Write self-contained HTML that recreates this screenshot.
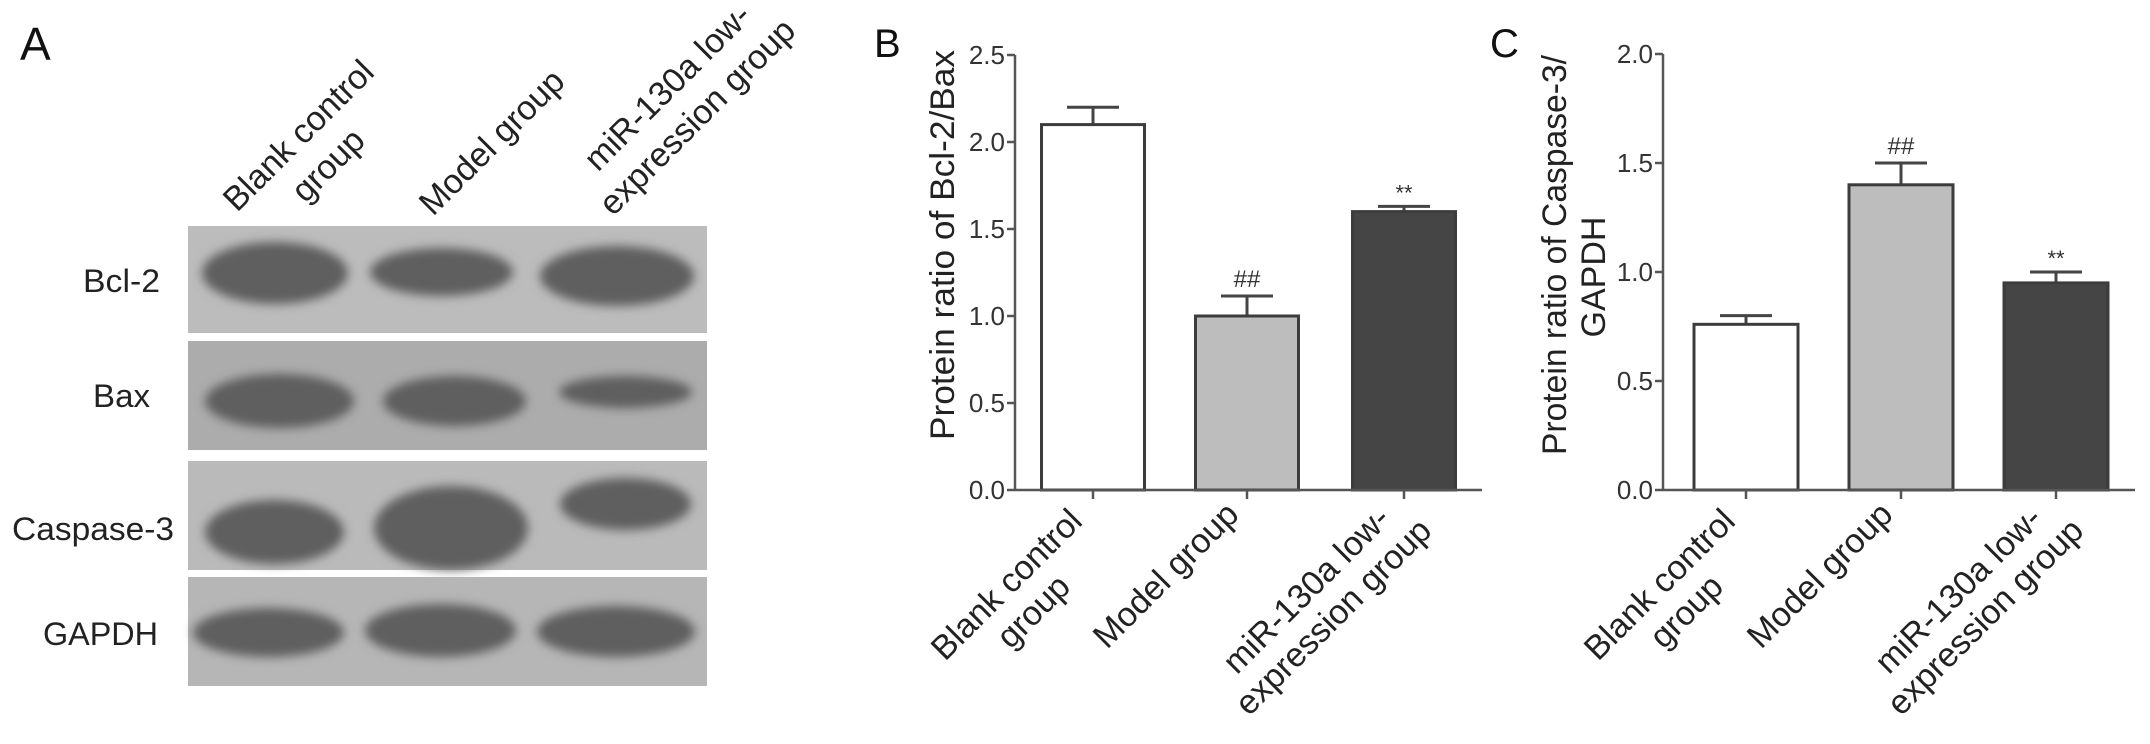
<!DOCTYPE html>
<html><head><meta charset="utf-8"><style>
html,body{margin:0;padding:0;background:#fff;}
svg{display:block;font-family:"Liberation Sans",Arial,sans-serif;}
</style></head><body>
<svg id="fig" width="2150" height="744" viewBox="0 0 2150 744" xmlns="http://www.w3.org/2000/svg">
<defs><filter id="blur" x="-20%" y="-50%" width="140%" height="200%"><feGaussianBlur stdDeviation="5"/></filter></defs>
<g id="panelA"></g>
<g id="panelB"></g>
<g id="panelC"></g>
</svg>
<script>
const categories = ["Blank control group","Model group","miR-130a low-expression group"];
const catLines = [["Blank control","group"],["Model group"],["miR-130a low-","expression group"]];
const bValues = [2.10, 1.00, 1.60];
const bErrors = [0.10, 0.115, 0.03];
const bMarks = ["", "##", "**"];
const bTicks = ["0.0","0.5","1.0","1.5","2.0","2.5"];
const cValues = [0.76, 1.40, 0.95];
const cErrors = [0.04, 0.10, 0.05];
const cMarks = ["", "##", "**"];
const cTicks = ["0.0","0.5","1.0","1.5","2.0"];
const blotRows = ["Bcl-2","Bax","Caspase-3","GAPDH"];

const NS="http://www.w3.org/2000/svg";
function mk(tag, attrs, parent){const e=document.createElementNS(NS,tag);for(const k in attrs)e.setAttribute(k,attrs[k]);if(parent)parent.appendChild(e);return e;}
const fills=["#ffffff","#bdbdbd","#454545"];

function rotLabel(parent, lines, sx, sy, fs, lh){
  const g=mk('g',{transform:`translate(${sx},${sy}) rotate(-45)`},parent);
  
  
  const ts=lines.map(l=>{const t=mk('text',{'font-size':fs,fill:'#222'},g);t.textContent=l;return t;});
  const w=ts.map(t=>t.getComputedTextLength());
  const Lmax=Math.max(...w);const kl=w.indexOf(Lmax);
  ts.forEach((t,k)=>{t.setAttribute('x',(Lmax-w[k])/2);t.setAttribute('y',(k-kl)*lh);});
}

// Panel A
(function(){
  const p=document.getElementById('panelA');
  const A=mk('text',{x:20,y:60,'font-size':46,fill:'#111'},p);A.textContent='A';
  
  
  rotLabel(p,catLines[0],237,213,34,42);
  rotLabel(p,catLines[1],433,217,34,42);
  rotLabel(p,catLines[2],613,217,34,42);
  const rowsY=[[226,333],[341,450],[461,570],[577,686]];
  const bg=["#bcbcbc","#acacac","#bababa","#b6b6b6"];
  const labelX=[83,93,12,43],labelW=[77,57,162,115],labelBase=[292,407,540,645];
  const bands=[
    [[200,350,240,306],[368,515,246,298],[538,696,244,308]],
    [[203,356,372,430],[381,528,374,428],[557,694,374,410]],
    [[203,346,498,566],[372,530,484,572],[558,693,476,532]],
    [[191,346,606,659],[363,518,602,659],[535,697,604,659]]];
  blotRows.forEach((r,i)=>{
    const rect=mk('rect',{x:188,y:rowsY[i][0],width:519,height:rowsY[i][1]-rowsY[i][0],fill:bg[i]},p);
    
    
    bands[i].forEach(b=>{
      const e=mk('ellipse',{cx:(b[0]+b[1])/2,cy:(b[2]+b[3])/2,rx:(b[1]-b[0])/2-2,ry:(b[3]-b[2])/2-2,fill:'#5e5e5e',filter:'url(#blur)'},p);
      
      
    });
    const t=mk('text',{x:labelX[i],y:labelBase[i],'font-size':32,fill:'#222',textLength:labelW[i],lengthAdjust:'spacingAndGlyphs'},p);
    t.textContent=r;
    
    
  });
})();

function chart(p, cfg){
  const {ax,x0,x1,y0,pxPer,vals,errs,marks,ticks,ticksX,barW}=cfg;
  const ys=v=>y0-v*pxPer;
  const L=mk('text',{x:cfg.letterX,y:57,'font-size':40,fill:'#111'},p);L.textContent=cfg.letter;
  
  
  const top=ys(parseFloat(ticks[ticks.length-1]));
  const yl=mk('line',{x1:ax,y1:top,x2:ax,y2:y0,stroke:'#555','stroke-width':2.5},p);
  
  
  ticks.forEach(tk=>{
    const y=ys(parseFloat(tk));
    mk('line',{x1:ax-8,y1:y,x2:ax,y2:y,stroke:'#555','stroke-width':2.5},p);
    const t=mk('text',{x:ax-10,y:y+9,'font-size':26,fill:'#333','text-anchor':'end'},p);t.textContent=tk;
    
    
  });
  vals.forEach((v,i)=>{
    const cx=ticksX[i];
    const ey=ys(v+errs[i]);
    mk('line',{x1:cx,y1:ys(v),x2:cx,y2:ey,stroke:'#444','stroke-width':3},p);
    mk('line',{x1:cx-26,y1:ey,x2:cx+26,y2:ey,stroke:'#444','stroke-width':3},p);
    const r=mk('rect',{x:cx-barW/2,y:ys(v),width:barW,height:y0-ys(v),fill:fills[i],stroke:'#3c3c3c','stroke-width':3},p);
    
    
    if(marks[i]){
      const m=mk('text',{x:cx,y:ey-(marks[i]==='##'?9:6),'font-size':marks[i]==='##'?24:22,fill:'#333','text-anchor':'middle'},p);
      m.textContent=marks[i];
      
      
    }
    mk('line',{x1:cx,y1:y0,x2:cx,y2:y0+9,stroke:'#555','stroke-width':2.5},p);
  });
  const xl=mk('line',{x1:ax,y1:y0,x2:x1,y2:y0,stroke:'#555','stroke-width':2.5},p);
  
  
  rotLabel(p,catLines[0],ticksX[0]-148,y0+172,34,38);
  rotLabel(p,catLines[1],ticksX[1]-140,y0+160,34,38);
  rotLabel(p,catLines[2],ticksX[2]-155,y0+227,34,38);
  cfg.title.forEach((tl,k)=>{
    const t=mk('text',{x:0,y:0,'font-size':34,fill:'#222','text-anchor':'middle',transform:`translate(${tl.x},${tl.y}) rotate(-90)`},p);
    t.textContent=tl.text;
    if(tl.len){t.setAttribute('textLength',tl.len);t.setAttribute('lengthAdjust','spacingAndGlyphs');}
    
    
  });
}
chart(document.getElementById('panelB'),{letter:'B',letterX:874,ax:1015,x1:1482,y0:490,pxPer:174,vals:bValues,errs:bErrors,marks:bMarks,ticks:bTicks,ticksX:[1093,1247,1404],barW:103,
  title:[{text:'Protein ratio of Bcl-2/Bax',x:954,y:245,len:390}]});
chart(document.getElementById('panelC'),{letter:'C',letterX:1490,ax:1663,x1:2135,y0:490,pxPer:218,vals:cValues,errs:cErrors,marks:cMarks,ticks:cTicks,ticksX:[1746,1901,2056],barW:104,
  title:[{text:'Protein ratio of Caspase-3/',x:1566,y:255,len:400},{text:'GAPDH',x:1605,y:277,len:0}]});
</script>
</body></html>
